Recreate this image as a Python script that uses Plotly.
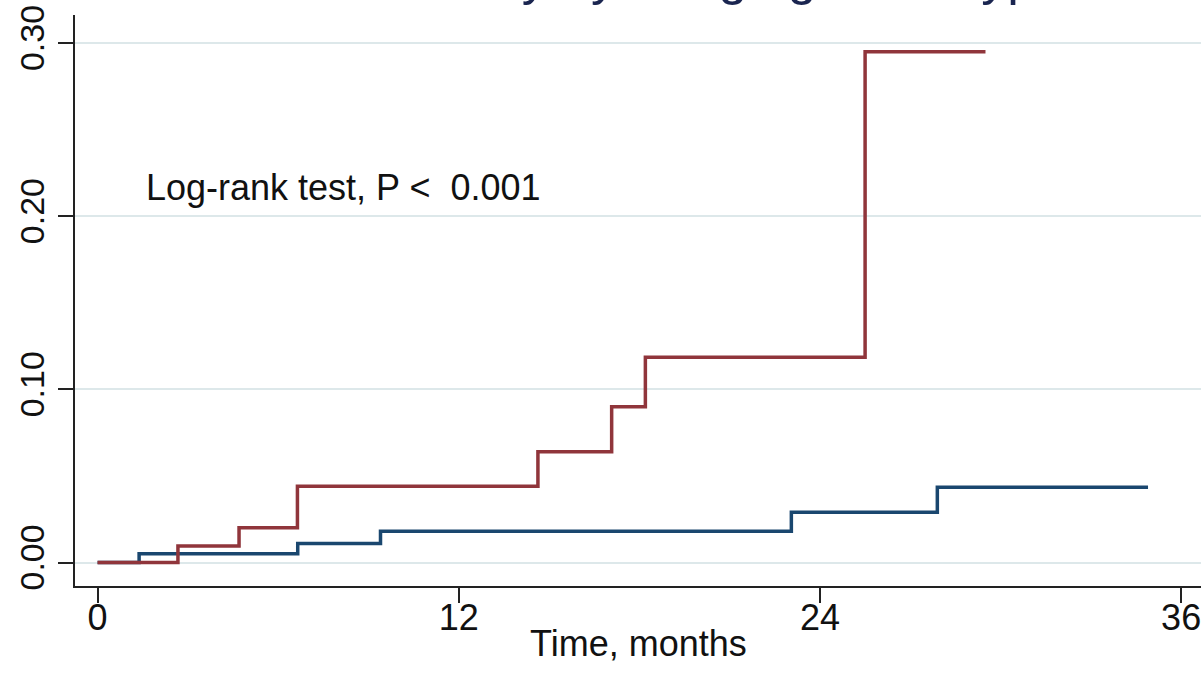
import plotly.graph_objects as go

# Data
blue_t = [0, 1.38, 6.65, 9.4, 23.05, 27.9, 34.9]
blue_y = [0, 0.005, 0.011, 0.018, 0.029, 0.0435, 0.0435]
red_t = [0, 2.67, 4.7, 6.64, 14.63, 17.08, 18.2, 25.5, 29.5]
red_y = [0, 0.0095, 0.020, 0.044, 0.064, 0.090, 0.1185, 0.295, 0.295]

x_ticks = [0, 12, 24, 36]
y_ticks = [0.0, 0.1, 0.2, 0.3]
y_tick_text = ["0.00", "0.10", "0.20", "0.30"]

title_text = "TLF Instability by Imaging Stent type"
x_title = "Time, months"
note_text = "Log-rank test, P <\u00a0\u00a00.001"

FONT = "Liberation Sans, Arial, Helvetica, sans-serif"

fig = go.Figure()
fig.add_trace(go.Scatter(x=blue_t, y=blue_y, mode="lines", line_shape="hv",
                         line=dict(color="#1a476f", width=3.5), showlegend=False))
fig.add_trace(go.Scatter(x=red_t, y=red_y, mode="lines", line_shape="hv",
                         line=dict(color="#90353b", width=3.5), showlegend=False))

fig.add_annotation(x=1.55, y=0.2168, xref="x", yref="y", text=note_text,
                   showarrow=False, xanchor="left", yanchor="middle",
                   font=dict(family=FONT, size=36, color="#111111"))

fig.add_annotation(x=0.506, y=1, xref="paper", yref="paper", text=title_text,
                   showarrow=False, xanchor="center", yanchor="bottom", yshift=8,
                   font=dict(family=FONT, size=52, color="#1a2550"))

fig.add_annotation(x=0.5, y=0, xref="paper", yref="paper", text=x_title,
                   showarrow=False, xanchor="center", yanchor="middle", yshift=-57,
                   font=dict(family=FONT, size=36, color="#111111"))

fig.update_layout(
    width=1201, height=688,
    margin=dict(l=75, r=0, t=15, b=102),
    paper_bgcolor="white", plot_bgcolor="white",
    font=dict(family=FONT, size=36, color="#111111"),
)
fig.update_xaxes(range=[-0.75, 36.66], tickvals=x_ticks, ticks="outside", ticklen=15,
                 tickwidth=2, tickcolor="#222222", showline=True, linecolor="#222222",
                 linewidth=2, showgrid=False, zeroline=False,
                 ticklabeloverflow="allow", ticklabelstandoff=-16,
                 tickfont=dict(size=36))
fig.update_yaxes(range=[-0.01357, 0.3162], tickvals=y_ticks, ticktext=y_tick_text,
                 ticks="outside", ticklen=15, tickwidth=2, tickcolor="#222222",
                 showline=True, linecolor="#222222", linewidth=2,
                 showgrid=True, gridcolor="#dde8ea", gridwidth=2, zeroline=False,
                 tickangle=-90, tickfont=dict(size=34))

fig.write_html("out.html")
